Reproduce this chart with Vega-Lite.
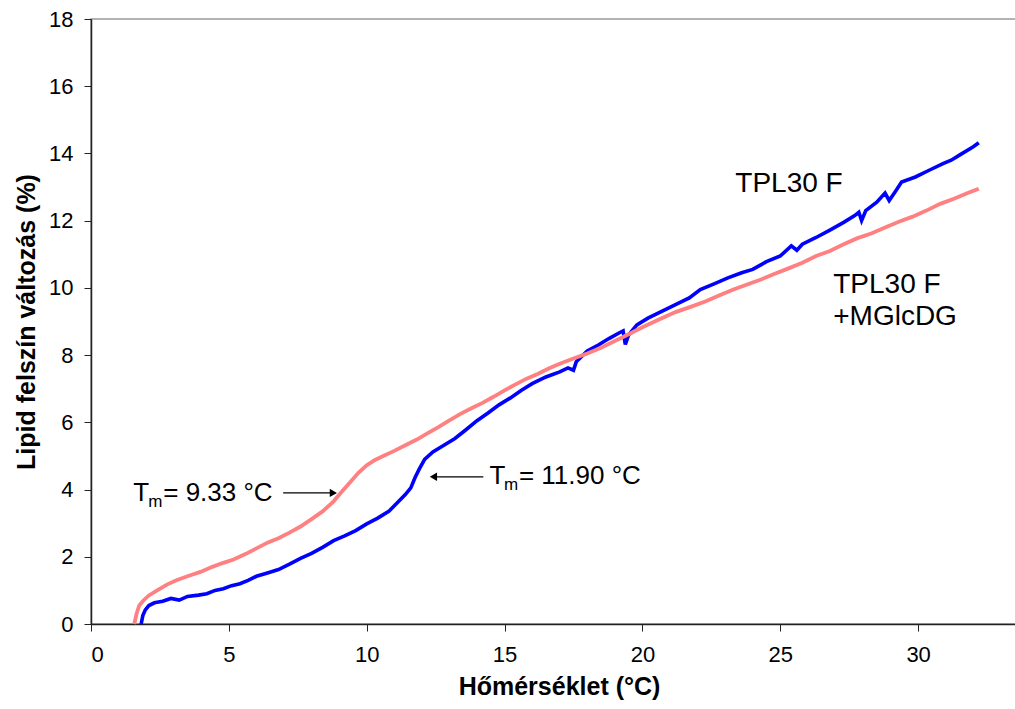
{
  "$schema": "https://vega.github.io/schema/vega-lite/v6.json",
  "width": 925,
  "height": 605,
  "autosize": {"type": "none"},
  "padding": {"left": 91, "top": 19, "right": 0, "bottom": 85},
  "background": "white",
  "config": {
    "view": {"stroke": "#999999", "strokeWidth": 1.5},
    "font": "Liberation Sans",
    "axis": {
      "labelFont": "Liberation Sans",
      "titleFont": "Liberation Sans",
      "labelFontSize": 22,
      "titleFontSize": 25,
      "titleFontWeight": "bold",
      "labelColor": "black",
      "titleColor": "black",
      "domainColor": "#222222",
      "domainWidth": 1.5,
      "tickColor": "#222222",
      "tickSize": 7,
      "grid": false
    }
  },
  "datasets": {
    "curves": [
      {"series": "TPL30 F", "t": 1.82, "v": 0},
      {"series": "TPL30 F", "t": 1.88, "v": 0.25},
      {"series": "TPL30 F", "t": 1.97, "v": 0.42},
      {"series": "TPL30 F", "t": 2.1, "v": 0.55},
      {"series": "TPL30 F", "t": 2.3, "v": 0.63},
      {"series": "TPL30 F", "t": 2.6, "v": 0.68},
      {"series": "TPL30 F", "t": 2.9, "v": 0.76},
      {"series": "TPL30 F", "t": 3.2, "v": 0.71},
      {"series": "TPL30 F", "t": 3.5, "v": 0.82},
      {"series": "TPL30 F", "t": 3.9, "v": 0.86},
      {"series": "TPL30 F", "t": 4.2, "v": 0.9},
      {"series": "TPL30 F", "t": 4.5, "v": 1.0},
      {"series": "TPL30 F", "t": 4.8, "v": 1.05},
      {"series": "TPL30 F", "t": 5.1, "v": 1.14},
      {"series": "TPL30 F", "t": 5.4, "v": 1.2},
      {"series": "TPL30 F", "t": 5.7, "v": 1.3},
      {"series": "TPL30 F", "t": 6.0, "v": 1.42},
      {"series": "TPL30 F", "t": 6.4, "v": 1.52},
      {"series": "TPL30 F", "t": 6.8, "v": 1.62},
      {"series": "TPL30 F", "t": 7.2, "v": 1.78},
      {"series": "TPL30 F", "t": 7.6, "v": 1.95},
      {"series": "TPL30 F", "t": 8.0, "v": 2.1},
      {"series": "TPL30 F", "t": 8.4, "v": 2.28},
      {"series": "TPL30 F", "t": 8.8, "v": 2.48},
      {"series": "TPL30 F", "t": 9.2, "v": 2.62},
      {"series": "TPL30 F", "t": 9.6, "v": 2.78},
      {"series": "TPL30 F", "t": 10.0, "v": 2.98},
      {"series": "TPL30 F", "t": 10.4, "v": 3.15},
      {"series": "TPL30 F", "t": 10.8, "v": 3.35},
      {"series": "TPL30 F", "t": 11.1, "v": 3.6},
      {"series": "TPL30 F", "t": 11.4, "v": 3.85},
      {"series": "TPL30 F", "t": 11.6, "v": 4.05},
      {"series": "TPL30 F", "t": 11.75, "v": 4.35},
      {"series": "TPL30 F", "t": 11.9, "v": 4.6},
      {"series": "TPL30 F", "t": 12.1, "v": 4.9},
      {"series": "TPL30 F", "t": 12.4, "v": 5.12},
      {"series": "TPL30 F", "t": 12.8, "v": 5.32},
      {"series": "TPL30 F", "t": 13.2, "v": 5.52},
      {"series": "TPL30 F", "t": 13.6, "v": 5.78},
      {"series": "TPL30 F", "t": 14.0, "v": 6.05},
      {"series": "TPL30 F", "t": 14.4, "v": 6.28},
      {"series": "TPL30 F", "t": 14.8, "v": 6.52},
      {"series": "TPL30 F", "t": 15.2, "v": 6.72},
      {"series": "TPL30 F", "t": 15.6, "v": 6.95},
      {"series": "TPL30 F", "t": 16.0, "v": 7.15},
      {"series": "TPL30 F", "t": 16.5, "v": 7.35},
      {"series": "TPL30 F", "t": 17.0, "v": 7.5},
      {"series": "TPL30 F", "t": 17.3, "v": 7.62},
      {"series": "TPL30 F", "t": 17.5, "v": 7.55},
      {"series": "TPL30 F", "t": 17.6, "v": 7.8},
      {"series": "TPL30 F", "t": 18.0, "v": 8.12},
      {"series": "TPL30 F", "t": 18.4, "v": 8.3},
      {"series": "TPL30 F", "t": 18.8, "v": 8.5},
      {"series": "TPL30 F", "t": 19.2, "v": 8.68},
      {"series": "TPL30 F", "t": 19.3, "v": 8.72},
      {"series": "TPL30 F", "t": 19.38, "v": 8.32},
      {"series": "TPL30 F", "t": 19.5, "v": 8.6},
      {"series": "TPL30 F", "t": 19.8, "v": 8.9},
      {"series": "TPL30 F", "t": 20.2, "v": 9.1},
      {"series": "TPL30 F", "t": 20.7, "v": 9.3},
      {"series": "TPL30 F", "t": 21.2, "v": 9.5},
      {"series": "TPL30 F", "t": 21.7, "v": 9.7},
      {"series": "TPL30 F", "t": 22.1, "v": 9.95},
      {"series": "TPL30 F", "t": 22.6, "v": 10.12},
      {"series": "TPL30 F", "t": 23.1, "v": 10.3},
      {"series": "TPL30 F", "t": 23.6, "v": 10.45},
      {"series": "TPL30 F", "t": 24.0, "v": 10.55},
      {"series": "TPL30 F", "t": 24.5, "v": 10.78},
      {"series": "TPL30 F", "t": 25.0, "v": 10.95},
      {"series": "TPL30 F", "t": 25.4, "v": 11.25},
      {"series": "TPL30 F", "t": 25.6, "v": 11.12},
      {"series": "TPL30 F", "t": 25.8, "v": 11.3},
      {"series": "TPL30 F", "t": 26.3, "v": 11.5},
      {"series": "TPL30 F", "t": 26.8, "v": 11.72},
      {"series": "TPL30 F", "t": 27.3, "v": 11.95},
      {"series": "TPL30 F", "t": 27.7, "v": 12.15},
      {"series": "TPL30 F", "t": 27.85, "v": 12.25},
      {"series": "TPL30 F", "t": 27.95, "v": 12.0},
      {"series": "TPL30 F", "t": 28.1, "v": 12.3},
      {"series": "TPL30 F", "t": 28.5, "v": 12.55},
      {"series": "TPL30 F", "t": 28.8, "v": 12.82},
      {"series": "TPL30 F", "t": 28.95, "v": 12.6},
      {"series": "TPL30 F", "t": 29.2, "v": 12.9},
      {"series": "TPL30 F", "t": 29.4, "v": 13.15},
      {"series": "TPL30 F", "t": 29.9, "v": 13.3},
      {"series": "TPL30 F", "t": 30.4, "v": 13.5},
      {"series": "TPL30 F", "t": 30.9, "v": 13.7},
      {"series": "TPL30 F", "t": 31.2, "v": 13.8},
      {"series": "TPL30 F", "t": 31.5, "v": 13.95},
      {"series": "TPL30 F", "t": 32.0, "v": 14.2},
      {"series": "TPL30 F", "t": 32.2, "v": 14.32},
      {"series": "TPL30 F +MGlcDG", "t": 1.57, "v": 0},
      {"series": "TPL30 F +MGlcDG", "t": 1.65, "v": 0.3},
      {"series": "TPL30 F +MGlcDG", "t": 1.75, "v": 0.55},
      {"series": "TPL30 F +MGlcDG", "t": 1.9, "v": 0.7},
      {"series": "TPL30 F +MGlcDG", "t": 2.1, "v": 0.85},
      {"series": "TPL30 F +MGlcDG", "t": 2.4, "v": 1.0},
      {"series": "TPL30 F +MGlcDG", "t": 2.77, "v": 1.18},
      {"series": "TPL30 F +MGlcDG", "t": 3.1, "v": 1.3},
      {"series": "TPL30 F +MGlcDG", "t": 3.5, "v": 1.42},
      {"series": "TPL30 F +MGlcDG", "t": 3.97, "v": 1.55},
      {"series": "TPL30 F +MGlcDG", "t": 4.4, "v": 1.7},
      {"series": "TPL30 F +MGlcDG", "t": 4.8, "v": 1.82},
      {"series": "TPL30 F +MGlcDG", "t": 5.17, "v": 1.92},
      {"series": "TPL30 F +MGlcDG", "t": 5.6, "v": 2.08},
      {"series": "TPL30 F +MGlcDG", "t": 6.0, "v": 2.25},
      {"series": "TPL30 F +MGlcDG", "t": 6.4, "v": 2.42},
      {"series": "TPL30 F +MGlcDG", "t": 6.8, "v": 2.55},
      {"series": "TPL30 F +MGlcDG", "t": 7.2, "v": 2.72},
      {"series": "TPL30 F +MGlcDG", "t": 7.6, "v": 2.9},
      {"series": "TPL30 F +MGlcDG", "t": 8.0, "v": 3.12},
      {"series": "TPL30 F +MGlcDG", "t": 8.4, "v": 3.35},
      {"series": "TPL30 F +MGlcDG", "t": 8.8, "v": 3.65},
      {"series": "TPL30 F +MGlcDG", "t": 9.1, "v": 3.94},
      {"series": "TPL30 F +MGlcDG", "t": 9.4, "v": 4.22},
      {"series": "TPL30 F +MGlcDG", "t": 9.7, "v": 4.5},
      {"series": "TPL30 F +MGlcDG", "t": 10.0, "v": 4.72},
      {"series": "TPL30 F +MGlcDG", "t": 10.3, "v": 4.88},
      {"series": "TPL30 F +MGlcDG", "t": 10.6, "v": 5.0},
      {"series": "TPL30 F +MGlcDG", "t": 11.0, "v": 5.15},
      {"series": "TPL30 F +MGlcDG", "t": 11.4, "v": 5.32},
      {"series": "TPL30 F +MGlcDG", "t": 11.8, "v": 5.48},
      {"series": "TPL30 F +MGlcDG", "t": 12.2, "v": 5.67},
      {"series": "TPL30 F +MGlcDG", "t": 12.6, "v": 5.86},
      {"series": "TPL30 F +MGlcDG", "t": 13.0, "v": 6.06},
      {"series": "TPL30 F +MGlcDG", "t": 13.4, "v": 6.25},
      {"series": "TPL30 F +MGlcDG", "t": 13.8, "v": 6.42},
      {"series": "TPL30 F +MGlcDG", "t": 14.2, "v": 6.58},
      {"series": "TPL30 F +MGlcDG", "t": 14.6, "v": 6.76},
      {"series": "TPL30 F +MGlcDG", "t": 15.0, "v": 6.95},
      {"series": "TPL30 F +MGlcDG", "t": 15.4, "v": 7.13},
      {"series": "TPL30 F +MGlcDG", "t": 15.8, "v": 7.3},
      {"series": "TPL30 F +MGlcDG", "t": 16.2, "v": 7.44},
      {"series": "TPL30 F +MGlcDG", "t": 16.6, "v": 7.6},
      {"series": "TPL30 F +MGlcDG", "t": 17.0, "v": 7.74},
      {"series": "TPL30 F +MGlcDG", "t": 17.5, "v": 7.9},
      {"series": "TPL30 F +MGlcDG", "t": 18.0, "v": 8.05},
      {"series": "TPL30 F +MGlcDG", "t": 18.5, "v": 8.22},
      {"series": "TPL30 F +MGlcDG", "t": 19.0, "v": 8.42},
      {"series": "TPL30 F +MGlcDG", "t": 19.5, "v": 8.62},
      {"series": "TPL30 F +MGlcDG", "t": 20.0, "v": 8.83},
      {"series": "TPL30 F +MGlcDG", "t": 20.6, "v": 9.06},
      {"series": "TPL30 F +MGlcDG", "t": 21.2, "v": 9.28},
      {"series": "TPL30 F +MGlcDG", "t": 21.8, "v": 9.45},
      {"series": "TPL30 F +MGlcDG", "t": 22.3, "v": 9.6},
      {"series": "TPL30 F +MGlcDG", "t": 22.8, "v": 9.78},
      {"series": "TPL30 F +MGlcDG", "t": 23.3, "v": 9.95},
      {"series": "TPL30 F +MGlcDG", "t": 23.8, "v": 10.1},
      {"series": "TPL30 F +MGlcDG", "t": 24.3, "v": 10.25},
      {"series": "TPL30 F +MGlcDG", "t": 24.8, "v": 10.42},
      {"series": "TPL30 F +MGlcDG", "t": 25.3, "v": 10.58},
      {"series": "TPL30 F +MGlcDG", "t": 25.8, "v": 10.75},
      {"series": "TPL30 F +MGlcDG", "t": 26.3, "v": 10.95},
      {"series": "TPL30 F +MGlcDG", "t": 26.8, "v": 11.1},
      {"series": "TPL30 F +MGlcDG", "t": 27.3, "v": 11.3},
      {"series": "TPL30 F +MGlcDG", "t": 27.8, "v": 11.48},
      {"series": "TPL30 F +MGlcDG", "t": 28.3, "v": 11.62},
      {"series": "TPL30 F +MGlcDG", "t": 28.8, "v": 11.8},
      {"series": "TPL30 F +MGlcDG", "t": 29.3, "v": 11.97},
      {"series": "TPL30 F +MGlcDG", "t": 29.8, "v": 12.12},
      {"series": "TPL30 F +MGlcDG", "t": 30.3, "v": 12.3},
      {"series": "TPL30 F +MGlcDG", "t": 30.8, "v": 12.5},
      {"series": "TPL30 F +MGlcDG", "t": 31.3, "v": 12.65},
      {"series": "TPL30 F +MGlcDG", "t": 31.8, "v": 12.82},
      {"series": "TPL30 F +MGlcDG", "t": 32.2, "v": 12.95}
    ],
    "labels": [
      {"kind": "tm", "t": 1.53, "v": 3.66, "text": "T"},
      {"kind": "sub", "t": 2.08, "v": 3.48, "text": "m"},
      {"kind": "tm", "t": 2.62, "v": 3.66, "text": "= 9.33 °C"},
      {"kind": "tm", "t": 14.45, "v": 4.17, "text": "T"},
      {"kind": "sub", "t": 14.98, "v": 3.99, "text": "m"},
      {"kind": "tm", "t": 15.52, "v": 4.17, "text": "= 11.90 °C"},
      {"kind": "series", "t": 23.37, "v": 12.86, "text": "TPL30 F"},
      {"kind": "series", "t": 26.92, "v": 9.86, "text": "TPL30 F"},
      {"kind": "series", "t": 26.92, "v": 8.9, "text": "+MGlcDG"}
    ],
    "arrows": [
      {"from": 6.97, "to": 8.79, "v": 3.9, "dir": "right"},
      {"from": 14.23, "to": 12.42, "v": 4.38, "dir": "left"}
    ]
  },
  "layer": [
    {
      "data": {"name": "curves"},
      "transform": [{"filter": "datum.series === 'TPL30 F'"}],
      "mark": {"type": "line", "strokeWidth": 3.6, "color": "#0000FF"},
      "encoding": {
        "x": {
          "field": "t", "type": "quantitative",
          "scale": {"domain": [0, 33.55], "nice": false, "zero": false},
          "axis": {"values": [0, 5, 10, 15, 20, 25, 30], "title": "Hőmérséklet (°C)", "labelFontSize": 22, "titleFontSize": 25, "labelPadding": 13, "titlePadding": 9, "titleX": 468}
        },
        "y": {
          "field": "v", "type": "quantitative",
          "scale": {"domain": [0, 18], "nice": false},
          "axis": {"values": [0, 2, 4, 6, 8, 10, 12, 14, 16, 18], "title": "Lipid felszín változás (%)", "labelFontSize": 22, "titleFontSize": 25, "labelPadding": 11, "titlePadding": 9}
        },
        "order": {"field": "t", "type": "quantitative"}
      }
    },
    {
      "data": {"name": "curves"},
      "transform": [{"filter": "datum.series === 'TPL30 F +MGlcDG'"}],
      "mark": {"type": "line", "strokeWidth": 3.8, "color": "#FF8080"},
      "encoding": {
        "x": {"field": "t", "type": "quantitative"},
        "y": {"field": "v", "type": "quantitative"},
        "order": {"field": "t", "type": "quantitative"}
      }
    },
    {
      "data": {"name": "labels"},
      "transform": [{"filter": "datum.kind === 'tm'"}],
      "mark": {"type": "text", "align": "left", "baseline": "alphabetic", "fontSize": 26, "font": "Liberation Sans", "color": "black"},
      "encoding": {
        "x": {"field": "t", "type": "quantitative"},
        "y": {"field": "v", "type": "quantitative"},
        "text": {"field": "text"}
      }
    },
    {
      "data": {"name": "labels"},
      "transform": [{"filter": "datum.kind === 'series'"}],
      "mark": {"type": "text", "align": "left", "baseline": "alphabetic", "fontSize": 28, "font": "Liberation Sans", "color": "black"},
      "encoding": {
        "x": {"field": "t", "type": "quantitative"},
        "y": {"field": "v", "type": "quantitative"},
        "text": {"field": "text"}
      }
    },
    {
      "data": {"name": "labels"},
      "transform": [{"filter": "datum.kind === 'sub'"}],
      "mark": {"type": "text", "align": "left", "baseline": "alphabetic", "fontSize": 17, "font": "Liberation Sans", "color": "black"},
      "encoding": {
        "x": {"field": "t", "type": "quantitative"},
        "y": {"field": "v", "type": "quantitative"},
        "text": {"field": "text"}
      }
    },
    {
      "data": {"name": "arrows"},
      "mark": {"type": "rule", "color": "black", "strokeWidth": 1.2},
      "encoding": {
        "x": {"field": "from", "type": "quantitative"},
        "x2": {"field": "to"},
        "y": {"field": "v", "type": "quantitative"}
      }
    },
    {
      "data": {"name": "arrows"},
      "transform": [{"filter": "datum.dir === 'right'"}],
      "mark": {"type": "point", "shape": "triangle-right", "filled": true, "color": "black", "size": 70, "opacity": 1},
      "encoding": {
        "x": {"field": "to", "type": "quantitative"},
        "y": {"field": "v", "type": "quantitative"}
      }
    },
    {
      "data": {"name": "arrows"},
      "transform": [{"filter": "datum.dir === 'left'"}],
      "mark": {"type": "point", "shape": "triangle-left", "filled": true, "color": "black", "size": 70, "opacity": 1},
      "encoding": {
        "x": {"field": "to", "type": "quantitative"},
        "y": {"field": "v", "type": "quantitative"}
      }
    }
  ]
}
